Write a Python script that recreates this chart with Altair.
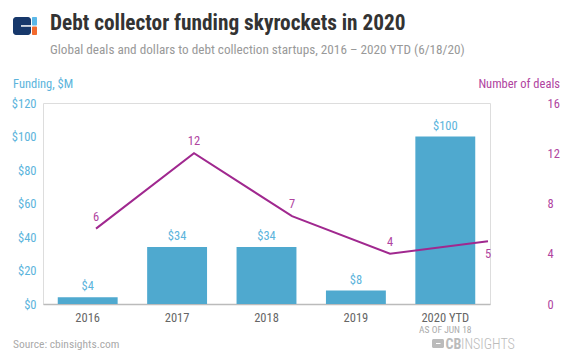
import altair as alt
import pandas as pd

years = ["2016", "2017", "2018", "2019", "2020 YTD"]
funding = [4, 34, 34, 8, 100]
deals = [6, 12, 7, 4, 5]
funding_labels = ["$4", "$34", "$34", "$8", "$100"]

df = pd.DataFrame({"year": years, "funding": funding, "deals": deals, "flabel": funding_labels})

FONT = "Roboto Condensed, Liberation Sans Narrow, DejaVu Sans Condensed, Roboto"
BLUE = "#4FA9CF"
BLUE_T = "#5BB4DC"
PURPLE = "#A0288F"
PURPLE_T = "#B0449F"
W, H = 447, 201

base = alt.Chart(df)

xband = alt.X("year:N", sort=years,
              scale=alt.Scale(paddingInner=0.33, paddingOuter=0.165),
              axis=alt.Axis(title=None, labelAngle=0, ticks=False, domainColor="#BBBBBB",
                            domainWidth=1.5, labelColor="#666666", labelFont=FONT,
                            labelFontSize=12.5, labelPadding=7))
left_axis = alt.Axis(title=None, values=[0, 20, 40, 60, 80, 100, 120], labelExpr="'$' + datum.value",
                     grid=False, domain=False, ticks=False, labelColor=BLUE_T, labelOverlap=False,
                     tickCount=7, labelFont=FONT, labelFontSize=12.5, labelPadding=7, orient="left")
yleft = alt.Y("funding:Q", scale=alt.Scale(domain=[0, 120], nice=False), axis=left_axis)

bars = base.mark_bar(color=BLUE).encode(x=xband, y=yleft)
bar_text = base.mark_text(color=BLUE_T, font=FONT, fontSize=12.5, baseline="bottom", dy=-4).encode(
    x=xband, y=yleft, text="flabel:N")
asof = base.transform_filter(alt.datum.year == "2020 YTD").mark_text(
    color="#AAAAAA", font=FONT, fontSize=9.5, baseline="alphabetic", text="AS OF JUN 18").encode(
    x=xband, y=alt.value(H + 29))

bar_layer = alt.layer(bars, bar_text, asof)

xpoint = alt.X("year:N", sort=years, scale=alt.Scale(type="point", range=[53, 445], padding=0), axis=None)
right_axis = alt.Axis(title=None, values=[0, 4, 8, 12, 16], grid=False, domain=False, ticks=False,
                      labelColor=PURPLE_T, labelFont=FONT, labelFontSize=12.5, labelOverlap=False,
                      labelPadding=5, offset=52, orient="right")
yright = alt.Y("deals:Q", scale=alt.Scale(domain=[0, 16], nice=False), axis=right_axis)

line = base.mark_line(color=PURPLE, strokeWidth=2).encode(x=xpoint, y=yright)
line_text = base.transform_filter(alt.datum.year != "2020 YTD").mark_text(
    color=PURPLE_T, font=FONT, fontSize=12.5, baseline="bottom", dy=-5).encode(
    x=xpoint, y=yright, text="deals:Q")
line_text_below = base.transform_filter(alt.datum.year == "2020 YTD").mark_text(
    color=PURPLE_T, font=FONT, fontSize=12.5, baseline="top", dy=7).encode(
    x=xpoint, y=yright, text="deals:Q")

line_layer = alt.layer(line, line_text, line_text_below)

one = pd.DataFrame({"k": [0]})
ann = alt.Chart(one)

title = ann.mark_text(text="Debt collector funding skyrockets in 2020", font=FONT, fontSize=21.3,
                      fontWeight="bold", color="#333333", align="left", baseline="alphabetic").encode(
    x=alt.value(7), y=alt.value(-73.5))
subtitle = ann.mark_text(text="Global deals and dollars to debt collection startups, 2016 \u2013 2020 YTD (6/18/20)",
                         font=FONT, fontSize=13.2, color="#999999", align="left", baseline="alphabetic").encode(
    x=alt.value(7), y=alt.value(-49.5))
ltitle = ann.mark_text(text="Funding, $M", font=FONT, fontSize=12.5, color=BLUE_T, align="left",
                       baseline="alphabetic").encode(x=alt.value(-30), y=alt.value(-15))
rtitle = ann.mark_text(text="Number of deals", font=FONT, fontSize=12.5, color=PURPLE_T, align="right",
                       baseline="alphabetic").encode(x=alt.value(517), y=alt.value(-15))
source = ann.mark_text(text="Source: cbinsights.com", font=FONT, fontSize=11.5, color="#AAAAAA", align="left",
                       baseline="alphabetic").encode(x=alt.value(-30), y=alt.value(H + 44))
cb_icon = ann.mark_rect(color="#BBBBBB", cornerRadius=1.5).encode(
    x=alt.value(389), x2=alt.value(401), y=alt.value(H + 35), y2=alt.value(H + 44))
cb_notch = ann.mark_rect(color="white").encode(
    x=alt.value(393), x2=alt.value(397.5), y=alt.value(H + 39), y2=alt.value(H + 40))
cb_bold = ann.mark_text(text="CB", font=FONT, fontSize=14, fontWeight="bold", color="#BBBBBB", align="left",
                        baseline="alphabetic").encode(x=alt.value(402.5), y=alt.value(H + 44.5))
cb_thin = ann.mark_text(text="INSIGHTS", font=FONT, fontSize=14, fontWeight=300, color="#BBBBBB", align="left",
                        baseline="alphabetic").encode(x=alt.value(418), y=alt.value(H + 44.5))

logo_navy = ann.mark_rect(color="#17386B", cornerRadius=3).encode(
    x=alt.value(-30), x2=alt.value(-12), y=alt.value(-86), y2=alt.value(-68))
logo_notch = ann.mark_rect(color="white").encode(
    x=alt.value(-22), x2=alt.value(-12), y=alt.value(-77.8), y2=alt.value(-76.3))
logo_blue = ann.mark_rect(color="#5BB8E8", cornerRadius=1).encode(
    x=alt.value(-11), x2=alt.value(-6), y=alt.value(-86), y2=alt.value(-77.5))
logo_orange = ann.mark_rect(color="#F26A2E", cornerRadius=1).encode(
    x=alt.value(-11), x2=alt.value(-6), y=alt.value(-76.5), y2=alt.value(-68))

annotations = alt.layer(title, subtitle, ltitle, rtitle, source, cb_icon, cb_notch, cb_bold, cb_thin,
                        logo_navy, logo_notch, logo_blue, logo_orange)

chart = alt.layer(bar_layer, line_layer, annotations).resolve_scale(
    x="independent", y="independent").properties(
    width=W, height=H,
    autosize=alt.AutoSizeParams(type="none"),
    padding={"left": 35, "top": 95, "right": 74, "bottom": 52},
).configure_view(stroke=None).configure(background="white")

chart.save("out.html", embed_options={"renderer": "svg", "actions": False})
